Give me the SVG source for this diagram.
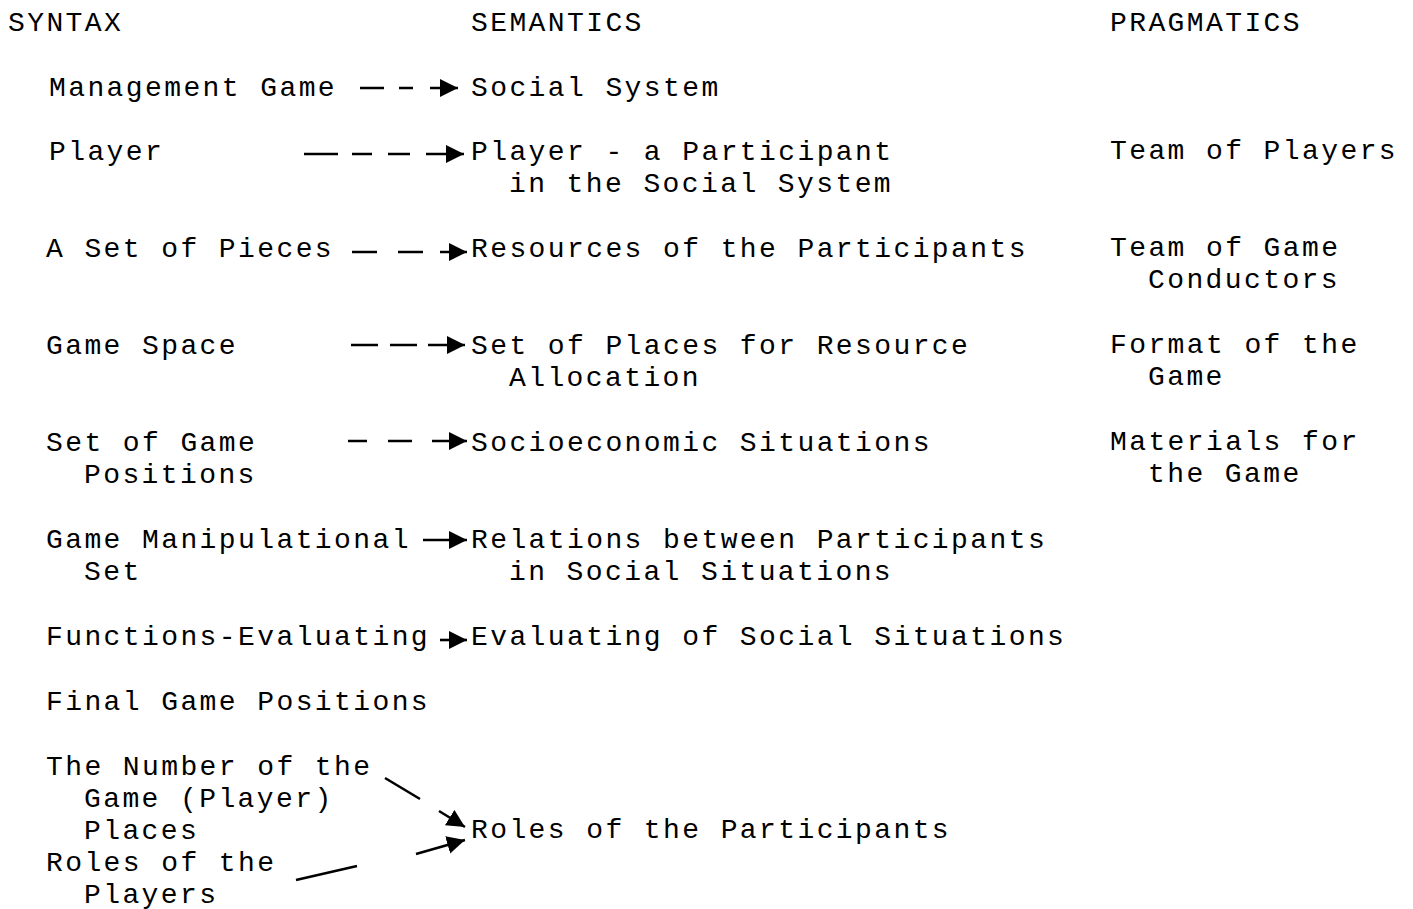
<svg xmlns="http://www.w3.org/2000/svg" width="1413" height="909" viewBox="0 0 1413 909">
<style>
text { font-family: "Liberation Mono", "Courier New", monospace; font-size: 28px; letter-spacing: 2.4px; fill: #000; }
.c path { fill: none; stroke: #000; stroke-width: 2.6; marker-end: url(#ah); }
</style>
<defs>
<marker id="ah" markerUnits="userSpaceOnUse" markerWidth="20" markerHeight="20" refX="18" refY="9" orient="auto">
<path d="M0,0 L18,9 L0,18 z" fill="#000"/>
</marker>
</defs>
<rect width="1413" height="909" fill="#fff"/>
<g id="headers">
<text x="8" y="31">SYNTAX</text>
<text x="471" y="31">SEMANTICS</text>
<text x="1110" y="31">PRAGMATICS</text>
</g>
<g id="syntax">
<g id="s1"><text x="49" y="96">Management Game</text></g>
<g id="s2"><text x="49" y="160">Player</text></g>
<g id="s3"><text x="46" y="257">A Set of Pieces</text></g>
<g id="s4"><text x="46" y="354">Game Space</text></g>
<g id="s5"><text x="46" y="451">Set of Game</text><text x="84" y="483">Positions</text></g>
<g id="s6"><text x="46" y="548">Game Manipulational</text><text x="84" y="580">Set</text></g>
<g id="s7"><text x="46" y="645">Functions-Evaluating</text></g>
<g id="s8"><text x="46" y="710">Final Game Positions</text></g>
<g id="s9"><text x="46" y="775">The Number of the</text><text x="84" y="807">Game (Player)</text><text x="84" y="839">Places</text></g>
<g id="s10"><text x="46" y="871">Roles of the</text><text x="84" y="903">Players</text></g>
</g>
<g id="semantics">
<g id="m1"><text x="471" y="96">Social System</text></g>
<g id="m2"><text x="471" y="160">Player - a Participant</text><text x="509" y="192">in the Social System</text></g>
<g id="m3"><text x="471" y="257">Resources of the Participants</text></g>
<g id="m4"><text x="471" y="354">Set of Places for Resource</text><text x="509" y="386">Allocation</text></g>
<g id="m5"><text x="471" y="451">Socioeconomic Situations</text></g>
<g id="m6"><text x="471" y="548">Relations between Participants</text><text x="509" y="580">in Social Situations</text></g>
<g id="m7"><text x="471" y="645">Evaluating of Social Situations</text></g>
<g id="m8"><text x="471" y="838">Roles of the Participants</text></g>
</g>
<g id="pragmatics">
<g id="p1"><text x="1110" y="159">Team of Players</text></g>
<g id="p2"><text x="1110" y="256">Team of Game</text><text x="1148" y="288">Conductors</text></g>
<g id="p3"><text x="1110" y="353">Format of the</text><text x="1148" y="385">Game</text></g>
<g id="p4"><text x="1110" y="450">Materials for</text><text x="1148" y="482">the Game</text></g>
</g>
<g id="connectors" class="c">
<path d="M360,88 H384 M399,88 H413 M430,88 H458"/>
<path d="M304,154 H338 M352,154 H372 M388,154 H410 M426,154 H464"/>
<path d="M352,252 H377 M398,252 H423 M440,252 H467"/>
<path d="M351,345 H378 M390,345 H417 M428,345 H465"/>
<path d="M348,441 H367 M388,441 H412 M432,441 H467"/>
<path d="M423,540 H467"/>
<path d="M440,640 H467"/>
<path d="M385,778 L420,799 M439,811 L465,827"/>
<path d="M296,880 L357,866 M416,854 L465,840"/>
</g>
</svg>
